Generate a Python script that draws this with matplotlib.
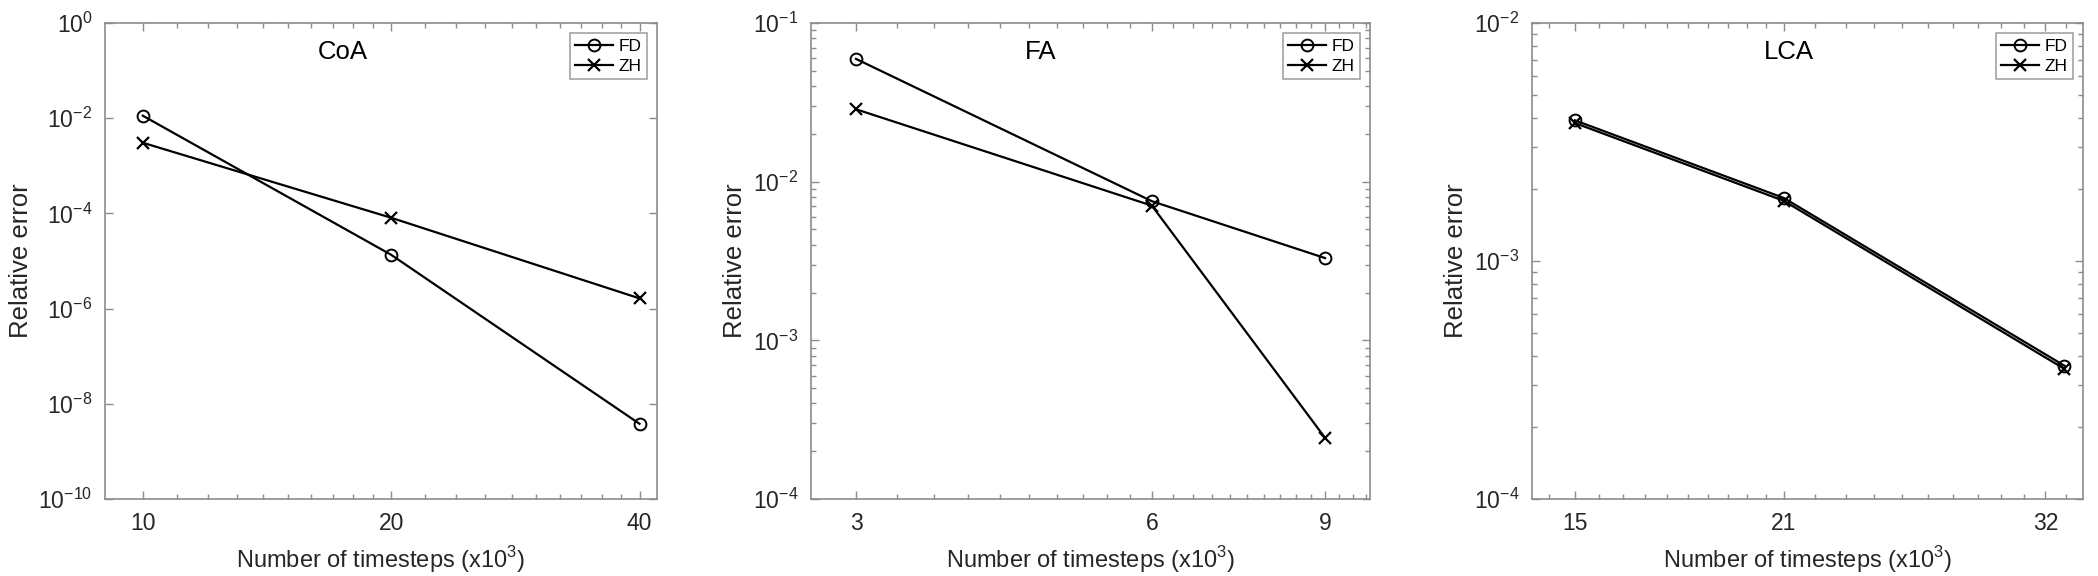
import numpy as np
import matplotlib
matplotlib.use("Agg")
from matplotlib import pyplot as plt
from matplotlib.ticker import FixedLocator, NullFormatter, LogLocator

plt.rcParams['font.family'] = ['Liberation Sans', 'DejaVu Sans']
plt.rcParams['mathtext.fontset'] = 'custom'
plt.rcParams['mathtext.rm'] = 'Liberation Sans'

# CoA
coa_x = [10, 20, 40]
coa_fd = [1.13e-2, 1.35e-5, 3.8e-9]
coa_zh = [3.05e-3, 8.1e-5, 1.64e-6]
coa_xticks = [10, 20, 40]

# FA
fa_x = [3, 6, 9]
fa_fd = [5.94e-2, 7.53e-3, 3.3e-3]
fa_zh = [2.86e-2, 7.06e-3, 2.43e-4]
fa_xticks = [3, 6, 9]

# LCA
lca_x = [15, 21, 33]
lca_fd = [3.9e-3, 1.84e-3, 3.63e-4]
lca_zh = [3.8e-3, 1.79e-3, 3.52e-4]
lca_xticks = [15, 21, 32]

W, H = 2098, 576
SPINE = '#8c8c8c'
TEXT = '#262626'


def minor_between(majors, lo, hi):
    # MATLAB-style: ten linear minor steps between consecutive majors
    out = []
    steps = np.diff(majors)
    first = steps[0] / 10.0
    v = majors[0] - first
    while v > lo:
        out.append(v)
        v -= first
    for a, b in zip(majors[:-1], majors[1:]):
        s = (b - a) / 10.0
        out.extend(a + s * np.arange(1, 10))
    last = steps[-1] / 10.0
    v = majors[-1] + last
    while v < hi:
        out.append(v)
        v += last
    return out


def sup_label(v):
    e = int(round(np.log10(v)))
    return r'$\mathregular{10^{%d}}$' % e


def draw_panel(ax, name, x, fd, zh, xticks, xlim, ylim, yticks, yminor, title_x):
    ax.plot(x, fd, '-o', color='black', lw=1.6, ms=8.5, mfc='none', mew=1.4, label='FD')
    ax.plot(x, zh, '-x', color='black', lw=1.6, ms=8.5, mew=1.6, label='ZH')
    ax.set_xscale('log')
    ax.set_yscale('log')
    ax.set_xlim(*xlim)
    ax.set_ylim(*ylim)
    ax.xaxis.set_major_locator(FixedLocator(xticks))
    ax.xaxis.set_minor_locator(FixedLocator(minor_between(xticks, xlim[0], xlim[1])))
    ax.xaxis.set_minor_formatter(NullFormatter())
    ax.set_xticklabels([str(t) for t in xticks])
    ax.yaxis.set_major_locator(FixedLocator(yticks))
    ax.set_yticklabels([sup_label(t) for t in yticks])
    if yminor:
        ax.yaxis.set_minor_locator(LogLocator(base=10, subs=np.arange(2, 10)))
    else:
        ax.yaxis.set_minor_locator(FixedLocator([]))
    ax.yaxis.set_minor_formatter(NullFormatter())
    ax.tick_params(which='both', direction='in', top=True, right=True,
                   color=SPINE, labelcolor=TEXT, labelsize=16.5, width=1)
    ax.tick_params(which='major', length=6, pad=9)
    ax.tick_params(which='minor', length=3.5)
    for s in ax.spines.values():
        s.set_color(SPINE)
        s.set_linewidth(1.2)
    ax.set_xlabel('Number of timesteps (x10$^{\\mathregular{3}}$)', fontsize=17,
                  color=TEXT, labelpad=7)
    ax.set_ylabel('Relative error', fontsize=18.5, color=TEXT, labelpad=4)
    ax.text(title_x, 0.94, name, transform=ax.transAxes, ha='center', va='center',
            fontsize=18.5, color='black')
    leg = ax.legend(loc='upper right', fontsize=12.5, frameon=True, fancybox=False,
                    borderaxespad=0.6, handlelength=2.2, handletextpad=0.3,
                    borderpad=0.3, labelspacing=0.3)
    leg.get_frame().set_edgecolor(SPINE)
    leg.get_frame().set_linewidth(1.2)


fig = plt.figure(figsize=(W / 100, H / 100), dpi=100)
bottom = (H - 499) / H
height = 476 / H
ax1 = fig.add_axes([105 / W, bottom, 552 / W, height])
ax2 = fig.add_axes([811 / W, bottom, 559 / W, height])
ax3 = fig.add_axes([1532 / W, bottom, 551 / W, height])

draw_panel(ax1, 'CoA', coa_x, coa_fd, coa_zh, coa_xticks, (9, 42), (1e-10, 1e0),
           [1e-10, 1e-8, 1e-6, 1e-4, 1e-2, 1e0], False, 0.43)
draw_panel(ax2, 'FA', fa_x, fa_fd, fa_zh, fa_xticks, (2.7, 10), (1e-4, 1e-1),
           [1e-4, 1e-3, 1e-2, 1e-1], True, 0.41)
draw_panel(ax3, 'LCA', lca_x, lca_fd, lca_zh, lca_xticks, (14, 34), (1e-4, 1e-2),
           [1e-4, 1e-3, 1e-2], True, 0.466)

fig.savefig('out.png', dpi=100)
